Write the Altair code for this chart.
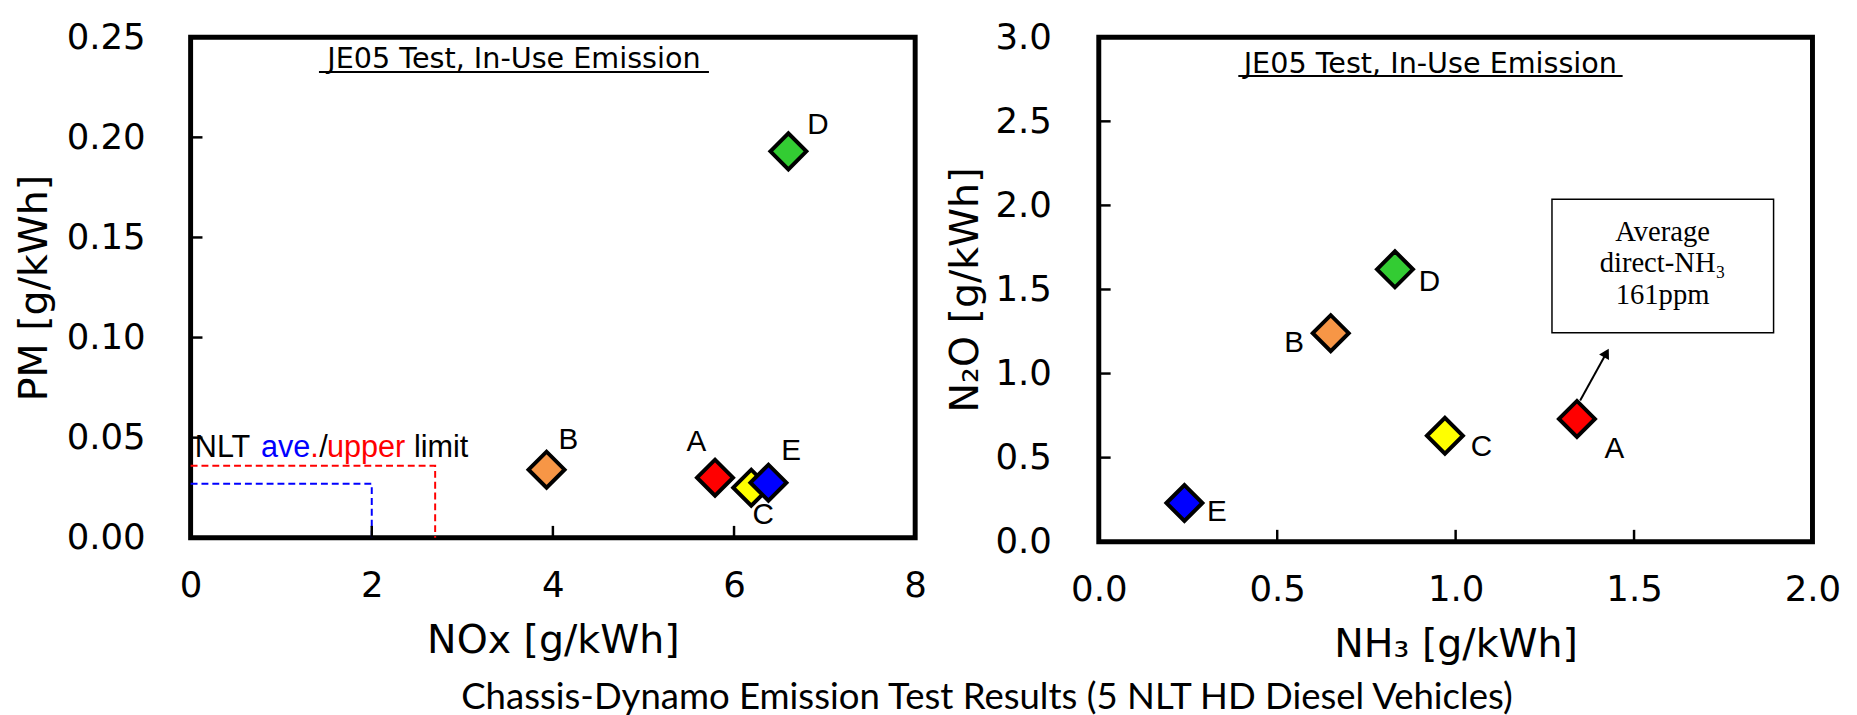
import altair as alt
import pandas as pd

# ---------------- data ----------------
vehicles = ["A", "B", "C", "D", "E"]
vehicle_colors = ["#FF0000", "#F79646", "#FFFF00", "#33CC33", "#0000FF"]
nox = [5.79, 3.93, 6.19, 6.60, 6.38]          # g/kWh
pm = [0.030, 0.034, 0.025, 0.193, 0.0275]     # g/kWh
nh3 = [1.34, 0.65, 0.97, 0.83, 0.24]          # g/kWh
n2o = [0.73, 1.24, 0.63, 1.62, 0.23]          # g/kWh

limit_names = ["ave.", "upper"]
limit_colors = ["#0000FF", "#FF0000"]
limit_nox = [2.0, 2.7]
limit_pm = [0.027, 0.036]

left_x_ticks = [0, 2, 4, 6, 8]
left_y_ticks = [0.0, 0.05, 0.10, 0.15, 0.20, 0.25]
right_x_ticks = [0.0, 0.5, 1.0, 1.5, 2.0]
right_y_ticks = [0.0, 0.5, 1.0, 1.5, 2.0, 2.5, 3.0]
left_inner_x_ticks = [2, 4, 6]
left_inner_y_ticks = [0.05, 0.10, 0.15, 0.20]
right_inner_x_ticks = [0.5, 1.0, 1.5]
right_inner_y_ticks = [0.5, 1.0, 1.5, 2.0, 2.5]

panel_note = "JE05 Test, In-Use Emission"
caption = "Chassis-Dynamo Emission Test Results (5 NLT HD Diesel Vehicles)"
box_lines = ["Average", "direct-NH\u2083", "161ppm"]

# annotation anchors (data units)
left_note_xy = (3.57, 0.2344)
left_underline = (1.417, 5.723, 0.2326)
right_note_xy = (0.929, 2.790)
right_underline = (0.391, 1.468, 2.769)
limit_text_xy = (0.046, 0.0401)
limit_text_parts = ["NLT", "ave", ".", "/", "upper", "limit"]
limit_text_colors = ["black", "#0000FF", "#FF0000", "black", "#FF0000", "black"]
box_x = (1.270, 1.891)
box_y = (1.242, 2.036)
box_text_x = 1.580
box_text_y = [1.789, 1.601, 1.414]
arrow_start = (1.349, 0.840)
arrow_head = (1.4225, 1.122)

# ---------------- style ----------------
W1, H1 = 734, 507
W2, H2 = 723, 511
AX_FONT = "DejaVu Sans"
TXT_FONT = "Liberation Sans"
TICK_LEN = 12
left_label_off = {"A": (-19, -36), "B": (22, -30), "C": (12, 28), "D": (30, -27), "E": (23, -32)}
right_label_off = {"A": (38, 31), "B": (-37, 10), "C": (37, 11), "D": (35, 13), "E": (33, 9)}
limit_text_dx = [0, 67, 117, 126, 134, 222]

pts = pd.DataFrame({"v": vehicles, "nox": nox, "pm": pm, "nh3": nh3, "n2o": n2o})
fill_scale = alt.Scale(domain=vehicles, range=vehicle_colors)


def axis_common(**kw):
    return alt.Axis(grid=False, domain=False, ticks=False, tickSize=0,
                    labelFont=AX_FONT, labelFontSize=36, labelColor="black",
                    titleFont=AX_FONT, titleFontSize=40, titleColor="black",
                    titleFontWeight="normal", labelFlush=False, labelOverlap=False,
                    **kw)


def build_panel(xf, yf, xdom, ydom, xticks, yticks, xfmt, yfmt, xtitle, ytitle,
                inner_x, inner_y, W, H, label_off, ylabpad, ytitlepad):
    xs = alt.Scale(domain=xdom, nice=False, zero=False)
    ys = alt.Scale(domain=ydom, nice=False, zero=False)
    xax = axis_common(values=xticks, format=xfmt, title=xtitle, labelPadding=32, titlePadding=17)
    yax = axis_common(values=yticks, format=yfmt, title=ytitle, labelPadding=ylabpad, titlePadding=ytitlepad)

    def X(f):
        return alt.X(f, type="quantitative", scale=xs, axis=xax)

    def Y(f):
        return alt.Y(f, type="quantitative", scale=ys, axis=yax)

    layers = []
    # inner ticks
    tx = pd.DataFrame({"x": inner_x})
    layers.append(alt.Chart(tx).mark_rule(color="black", strokeWidth=2.5).encode(
        x=X("x"), y=alt.value(H), y2=alt.value(H - TICK_LEN)))
    ty = pd.DataFrame({"y": inner_y})
    layers.append(alt.Chart(ty).mark_rule(color="black", strokeWidth=2.5).encode(
        y=Y("y"), x=alt.value(0), x2=alt.value(TICK_LEN)))
    # points
    layers.append(alt.Chart(pts).mark_point(shape="diamond", filled=True, size=1330,
                                            stroke="black", strokeWidth=4, opacity=1,
                                            strokeJoin="miter").encode(
        x=X(xf), y=Y(yf),
        fill=alt.Fill("v:N", scale=fill_scale, legend=None),
        order=alt.Order("v:N")))
    # point labels
    for v in vehicles:
        dx, dy = label_off[v]
        layers.append(alt.Chart(pts[pts.v == v]).mark_text(
            dx=dx, dy=dy, font=TXT_FONT, fontSize=30, color="black",
            align="center", baseline="middle").encode(x=X(xf), y=Y(yf), text="v:N"))
    return layers, X, Y


# ---------------- left panel ----------------
L, XL, YL = build_panel("nox", "pm", [0, 8], [0, 0.25], left_x_ticks, left_y_ticks,
                        "d", ".2f", "NOx [g/kWh]", "PM [g/kWh]",
                        left_inner_x_ticks, left_inner_y_ticks, W1, H1,
                        left_label_off, 46, 12)

lim_rows = []
for name, nx, p in zip(limit_names, limit_nox, limit_pm):
    lim_rows += [{"lim": name, "o": 0, "x": 0.0, "y": p},
                 {"lim": name, "o": 1, "x": nx, "y": p},
                 {"lim": name, "o": 2, "x": nx, "y": 0.0}]
lim_df = pd.DataFrame(lim_rows)
lim_layer = alt.Chart(lim_df).mark_line(strokeDash=[7, 4], strokeWidth=2).encode(
    x=XL("x"), y=YL("y"),
    stroke=alt.Stroke("lim:N", scale=alt.Scale(domain=limit_names, range=limit_colors), legend=None),
    detail="lim:N", order="o:Q")

# coloured limit caption
lim_text_layers = []
for part, col, off in zip(limit_text_parts, limit_text_colors, limit_text_dx):
    lim_text_layers.append(alt.Chart(pd.DataFrame({"x": [limit_text_xy[0]], "y": [limit_text_xy[1]], "t": [part]}))
                           .mark_text(dx=off, align="left", baseline="alphabetic", font=TXT_FONT,
                                      fontSize=31, color=col)
                           .encode(x=XL("x"), y=YL("y"), text="t:N"))

note_l = alt.Chart(pd.DataFrame({"x": [left_note_xy[0]], "y": [left_note_xy[1]], "t": [panel_note]})).mark_text(
    align="center", baseline="alphabetic", font=AX_FONT, fontSize=29, color="black").encode(
    x=XL("x"), y=YL("y"), text="t:N")
ul_l = alt.Chart(pd.DataFrame({"x": [left_underline[0]], "x2": [left_underline[1]], "y": [left_underline[2]]})).mark_rule(
    color="black", strokeWidth=2).encode(x=XL("x"), x2="x2", y=YL("y"))

left = alt.layer(lim_layer, *L, *lim_text_layers, note_l, ul_l).properties(width=W1, height=H1)

# ---------------- right panel ----------------
R, XR, YR = build_panel("nh3", "n2o", [0, 2], [0, 3], right_x_ticks, right_y_ticks,
                        ".1f", ".1f", "NH\u2083 [g/kWh]", "N\u2082O [g/kWh]",
                        right_inner_x_ticks, right_inner_y_ticks, W2, H2,
                        right_label_off, 48, 10)

box = alt.Chart(pd.DataFrame({"x": [box_x[0]], "x2": [box_x[1]], "y": [box_y[0]], "y2": [box_y[1]]})).mark_rect(
    fill="white", stroke="black", strokeWidth=1.5).encode(x=XR("x"), x2="x2", y=YR("y"), y2="y2")
box_txt = alt.Chart(pd.DataFrame({"x": [box_text_x] * 3, "y": box_text_y, "t": box_lines})).mark_text(
    align="center", baseline="alphabetic", font="Liberation Serif", fontSize=29, color="black").encode(
    x=XR("x"), y=YR("y"), text="t:N")
arrow_line = alt.Chart(pd.DataFrame({"x": [arrow_start[0]], "x2": [arrow_head[0]],
                                     "y": [arrow_start[1]], "y2": [arrow_head[1]]})).mark_rule(
    color="black", strokeWidth=2).encode(x=XR("x"), x2="x2", y=YR("y"), y2="y2")
arrow_tip = alt.Chart(pd.DataFrame({"x": [arrow_head[0]], "y": [arrow_head[1]]})).mark_point(
    shape="triangle-up", filled=True, size=130, color="black", angle=28.7, opacity=1).encode(
    x=XR("x"), y=YR("y"))
note_r = alt.Chart(pd.DataFrame({"x": [right_note_xy[0]], "y": [right_note_xy[1]], "t": [panel_note]})).mark_text(
    align="center", baseline="alphabetic", font=AX_FONT, fontSize=29, color="black").encode(
    x=XR("x"), y=YR("y"), text="t:N")
ul_r = alt.Chart(pd.DataFrame({"x": [right_underline[0]], "x2": [right_underline[1]], "y": [right_underline[2]]})).mark_rule(
    color="black", strokeWidth=2).encode(x=XR("x"), x2="x2", y=YR("y"))

right = alt.layer(box, box_txt, arrow_line, arrow_tip, *R, note_r, ul_r).properties(width=W2, height=H2)

chart = alt.hconcat(left, right, spacing=14).properties(
    title=alt.TitleParams(caption, orient="bottom", anchor="middle", font="Lato", fontSize=37,
                          fontWeight="normal", color="black", offset=14, dx=60),
    padding={"left": 4, "top": 4, "right": 5, "bottom": 0},
    background="white",
).configure_view(stroke="black", strokeWidth=5)

chart.save("out.html", embed_options={"renderer": "svg", "actions": False})
